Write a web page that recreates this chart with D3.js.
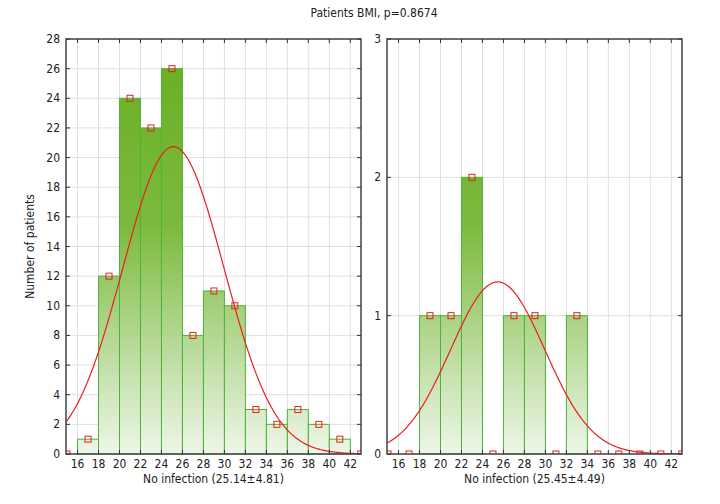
<!DOCTYPE html>
<head>
  <meta charset='utf-8'>
  <script src='https://d3js.org/d3.v7.min.js'></script>
  <style>
    body { margin: 0; background: #fff; }
    text { font-family: 'Liberation Sans Narrow', 'DejaVu Sans Condensed', sans-serif; font-size: 12px; fill: #222; }
  </style>
</head>
<body>
<script>
const binStarts = [16, 18, 20, 22, 24, 26, 28, 30, 32, 34, 36, 38, 40];
const leftCounts = [1, 12, 24, 22, 26, 8, 11, 10, 3, 2, 3, 2, 1];
const rightCounts = [0, 1, 1, 2, 0, 1, 1, 0, 1, 0, 0, 0, 0];
const markerX = [15, 17, 19, 21, 23, 25, 27, 29, 31, 33, 35, 37, 39, 41, 43];
const leftMarkers = [0, 1, 12, 24, 22, 26, 8, 11, 10, 3, 2, 3, 2, 1, 0];
const rightMarkers = [0, 0, 1, 1, 2, 0, 1, 1, 0, 1, 0, 0, 0, 0, 0];
const xTicks = [16, 18, 20, 22, 24, 26, 28, 30, 32, 34, 36, 38, 40, 42];
const leftYTicks = [0, 2, 4, 6, 8, 10, 12, 14, 16, 18, 20, 22, 24, 26, 28];
const rightYTicks = [0, 1, 2, 3];
const leftFit = {mean: 25.14, sd: 4.81, n: 125};
const rightFit = {mean: 25.45, sd: 4.49, n: 7};
const binWidth = 2;

const width = 720, height = 504;
const plotTop = 39, plotBottom = 454;

const svg = d3.select('body').append('svg').attr('width', width).attr('height', height);
const defs = svg.append('defs');

svg.append('text')
  .attr('x', 374).attr('y', 17)
  .attr('text-anchor', 'middle')
  .text('Patients BMI, p=0.8674');

svg.append('text')
  .attr('transform', 'translate(34,' + (plotTop + plotBottom) / 2 + ') rotate(-90)')
  .attr('text-anchor', 'middle')
  .text('Number of patients');

function panel(id, left, right, counts, markers, yTicks, yMax, fit, label) {
  const x = d3.scaleLinear().domain([14.9, 43.02]).range([left, right]);
  const y = d3.scaleLinear().domain([0, yMax]).range([plotBottom, plotTop]);

  const grad = defs.append('linearGradient')
    .attr('id', 'g' + id).attr('gradientUnits', 'userSpaceOnUse')
    .attr('x1', 0).attr('x2', 0).attr('y1', plotTop).attr('y2', plotBottom);
  grad.append('stop').attr('offset', 0).attr('stop-color', '#68ae20');
  grad.append('stop').attr('offset', 0.45).attr('stop-color', '#7cba3e');
  grad.append('stop').attr('offset', 1).attr('stop-color', '#eef6e9');

  defs.append('clipPath').attr('id', 'c' + id)
    .append('rect').attr('x', left).attr('y', plotTop).attr('width', right - left).attr('height', plotBottom - plotTop);

  const g = svg.append('g');

  g.selectAll('.vg').data(xTicks).enter().append('line')
    .attr('x1', d => x(d)).attr('x2', d => x(d)).attr('y1', plotTop).attr('y2', plotBottom)
    .attr('stroke', '#e0e0e0');
  g.selectAll('.hg').data(yTicks).enter().append('line')
    .attr('x1', left).attr('x2', right).attr('y1', d => y(d)).attr('y2', d => y(d))
    .attr('stroke', '#e0e0e0');

  g.selectAll('.bar').data(binStarts.map((b, i) => ({b: b, c: counts[i]})).filter(d => d.c > 0))
    .enter().append('rect')
    .attr('x', d => x(d.b)).attr('y', d => y(d.c))
    .attr('width', d => x(d.b + binWidth) - x(d.b))
    .attr('height', d => y(0) - y(d.c))
    .attr('fill', 'url(#g' + id + ')')
    .attr('stroke', '#4cb43a').attr('stroke-width', 1);

  const norm = v => fit.n * binWidth / (fit.sd * Math.sqrt(2 * Math.PI)) * Math.exp(-0.5 * Math.pow((v - fit.mean) / fit.sd, 2));
  const xs = d3.range(14.9, 43.05, 0.1);
  g.append('path')
    .attr('clip-path', 'url(#c' + id + ')')
    .attr('d', d3.line().x(d => x(d)).y(d => y(norm(d)))(xs))
    .attr('fill', 'none').attr('stroke', '#e8201e').attr('stroke-width', 1.2);

  g.append('g').attr('clip-path', 'url(#c' + id + ')')
    .selectAll('rect').data(markerX.map((m, i) => ({m: m, v: markers[i]})))
    .enter().append('rect')
    .attr('x', d => x(d.m) - 3).attr('y', d => y(d.v) - 3)
    .attr('width', 6).attr('height', 6)
    .attr('fill', 'none').attr('stroke', '#e8201e').attr('stroke-width', 1);

  g.append('rect')
    .attr('x', left).attr('y', plotTop).attr('width', right - left).attr('height', plotBottom - plotTop)
    .attr('fill', 'none').attr('stroke', '#444').attr('stroke-width', 1.5);

  // inward ticks on all four sides
  g.selectAll('.tt').data(xTicks).enter().append('path')
    .attr('d', d => 'M' + x(d) + ',' + plotTop + 'v4M' + x(d) + ',' + plotBottom + 'v-4')
    .attr('stroke', '#333');
  g.selectAll('.yt').data(yTicks).enter().append('path')
    .attr('d', d => 'M' + left + ',' + y(d) + 'h4M' + right + ',' + y(d) + 'h-4')
    .attr('stroke', '#333');

  g.selectAll('.xl').data(xTicks).enter().append('text')
    .attr('x', d => x(d)).attr('y', plotBottom + 14)
    .attr('text-anchor', 'middle').text(d => d);
  g.selectAll('.yl').data(yTicks).enter().append('text')
    .attr('x', left - 6).attr('y', d => y(d) + 4)
    .attr('text-anchor', 'end').text(d => d);

  g.append('text')
    .attr('x', (left + right) / 2).attr('y', plotBottom + 29)
    .attr('text-anchor', 'middle').text(label);
}

panel('L', 66, 361, leftCounts, leftMarkers, leftYTicks, 28, leftFit, 'No infection (25.14±4.81)');
panel('R', 387, 682, rightCounts, rightMarkers, rightYTicks, 3, rightFit, 'No infection (25.45±4.49)');
</script>
</body>
